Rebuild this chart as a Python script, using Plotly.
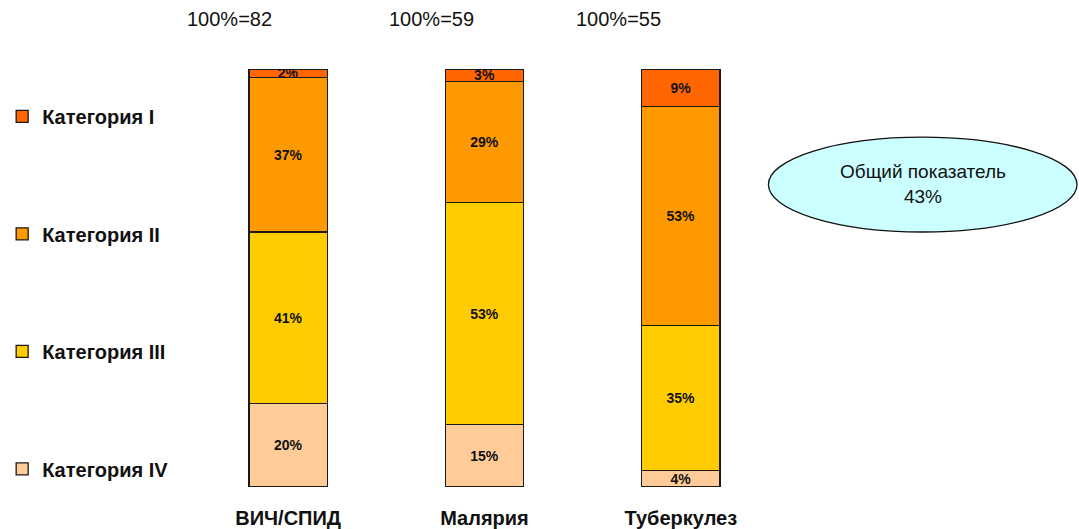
import plotly.graph_objects as go

# Disease groups on the x axis
diseases = ["ВИЧ/СПИД", "Малярия", "Туберкулез"]
# Number of cases that make up 100% in each group
totals = [82, 59, 55]

# Share of each category, percent
cat_names = ["Категория IV", "Категория III", "Категория II", "Категория I"]
cat_iv = [20, 15, 4]
cat_iii = [41, 53, 35]
cat_ii = [37, 29, 53]
cat_i = [2, 3, 9]
cat_colors = ["#ffcc99", "#ffcc00", "#ff9900", "#ff6600"]

overall_share = 43

FONT = "Liberation Sans, Arial, Helvetica, sans-serif"

fig = go.Figure()
for name, vals, color in zip(cat_names, [cat_iv, cat_iii, cat_ii, cat_i], cat_colors):
    fig.add_trace(go.Bar(
        x=diseases,
        y=vals,
        name=name,
        legendgroup=name,
        legendrank=len(cat_names) - cat_names.index(name),
        width=0.4,
        marker=dict(color=color, line=dict(color="#1a1a1a", width=1.3)),
        text=[f"{v}%" for v in vals],
        texttemplate="%{text}",
        textposition="inside",
        insidetextanchor="middle",
        textangle=0,
        textfont=dict(family=FONT, size=14, color="#111111", weight="bold"),
        hoverinfo="skip",
    ))

fig.update_layout(
    width=1079,
    height=529,
    barmode="stack",
    barnorm="percent",
    plot_bgcolor="white",
    paper_bgcolor="white",
    margin=dict(l=190, r=300, t=69, b=42),
    font=dict(family=FONT, color="#111111"),
    uniformtext=dict(minsize=14, mode="show"),
    showlegend=True,
    legend=dict(
        traceorder="grouped",
        tracegroupgap=88.5,
        xref="container",
        yref="container",
        x=0.002,
        xanchor="left",
        y=0.817,
        yanchor="top",
        maxheight=520,
        font=dict(family=FONT, size=20, color="#111111", weight="bold"),
        bgcolor="rgba(0,0,0,0)",
        itemclick=False,
        itemdoubleclick=False,
    ),
    xaxis=dict(
        showline=False,
        showgrid=False,
        zeroline=False,
        ticks="",
        automargin=False,
        ticklabelstandoff=17,
        tickfont=dict(family=FONT, size=20, color="#111111", weight="bold"),
        range=[-0.5, 2.5],
    ),
    yaxis=dict(
        range=[0, 100],
        showline=False,
        showgrid=False,
        zeroline=False,
        showticklabels=False,
        ticks="",
        automargin=False,
    ),
)

# "100%=N" headings above the bars
head_x = [0.0672, 0.4107, 0.7279]
for hx, n in zip(head_x, totals):
    fig.add_annotation(
        x=hx, y=1.12, xref="paper", yref="paper",
        xanchor="center", yanchor="middle",
        text=f"100%={n}", showarrow=False,
        font=dict(family=FONT, size=20, color="#111111"),
    )

# Overall indicator in an ellipse
fig.add_shape(
    type="circle", xref="paper", yref="paper",
    x0=0.982, x1=1.506, y0=0.610, y1=0.837,
    fillcolor="#ccffff", line=dict(color="#111111", width=1.3),
    layer="above",
)
fig.add_annotation(
    x=1.2441, y=0.725, xref="paper", yref="paper",
    xanchor="center", yanchor="middle",
    text=f"Общий показатель<br>{overall_share}%", showarrow=False,
    align="center",
    font=dict(family=FONT, size=19, color="#111111"),
)

fig.write_html("out.html")
